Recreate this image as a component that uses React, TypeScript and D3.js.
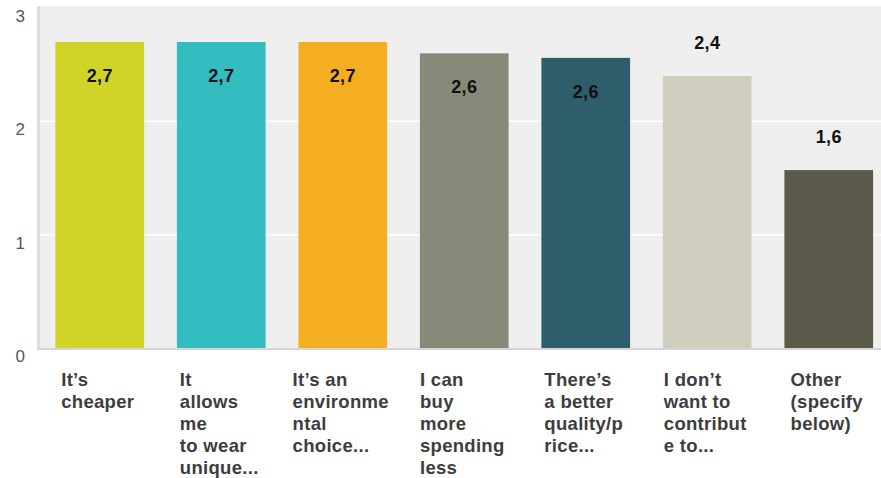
import React, { useEffect, useRef } from "react";
import * as d3 from "d3";

const categories: string[][] = [
  ["It’s", "cheaper"],
  ["It", "allows", "me", "to wear", "unique..."],
  ["It’s an", "environme", "ntal", "choice..."],
  ["I can", "buy", "more", "spending", "less"],
  ["There’s", "a better", "quality/p", "rice..."],
  ["I don’t", "want to", "contribut", "e to..."],
  ["Other", "(specify", "below)"],
];
const values: number[] = [2.7, 2.7, 2.7, 2.6, 2.56, 2.4, 1.57];
const valueLabels: string[] = ["2,7", "2,7", "2,7", "2,6", "2,6", "2,4", "1,6"];
const colors: string[] = ["#cfd427", "#33bdc0", "#f5ae1f", "#888a79", "#2e5e6b", "#cfcdbe", "#5b5a4a"];
const yTicks: number[] = [0, 1, 2, 3];

const W = 881;
const H = 478;

export default function App() {
  const ref = useRef<SVGSVGElement>(null);

  useEffect(() => {
    const svg = d3.select(ref.current);
    svg.selectAll("*").remove();

    const plotLeft = 38;
    const plotTop = 6;
    const plotBottom = 348;

    const y = d3.scaleLinear().domain([0, 3]).range([348, 8]);
    const x = d3
      .scaleBand<number>()
      .domain(d3.range(categories.length))
      .range([39, 889.5])
      .paddingInner(0.27)
      .paddingOuter(0.135);

    svg
      .append("rect")
      .attr("x", plotLeft)
      .attr("y", plotTop)
      .attr("width", W - plotLeft)
      .attr("height", plotBottom - plotTop)
      .attr("fill", "#efefef");

    svg
      .append("rect")
      .attr("x", 37)
      .attr("y", plotTop)
      .attr("width", 3)
      .attr("height", plotBottom - plotTop + 2)
      .attr("fill", "#dcdcdc");

    svg
      .selectAll("line.grid")
      .data(yTicks.filter((t) => t > 0 && t < 3))
      .enter()
      .append("line")
      .attr("x1", 40)
      .attr("x2", W)
      .attr("y1", (d) => y(d))
      .attr("y2", (d) => y(d))
      .attr("stroke", "#ffffff")
      .attr("stroke-width", 1.5);

    svg
      .selectAll("text.ytick")
      .data(yTicks)
      .enter()
      .append("text")
      .attr("x", 25)
      .attr("y", (d) => y(d) + 14)
      .attr("text-anchor", "end")
      .attr("font-family", "Liberation Sans, Arial, sans-serif")
      .attr("font-size", 17)
      .attr("fill", "#555555")
      .text((d) => String(d));

    svg
      .selectAll("rect.bar")
      .data(values)
      .enter()
      .append("rect")
      .attr("x", (_, i) => x(i)!)
      .attr("y", (d) => y(d))
      .attr("width", x.bandwidth())
      .attr("height", (d) => y(0) - y(d))
      .attr("fill", (_, i) => colors[i]);

    svg
      .append("rect")
      .attr("x", 37)
      .attr("y", 348)
      .attr("width", W - 37)
      .attr("height", 2)
      .attr("fill", "#d6d6d6");

    svg
      .selectAll("text.val")
      .data(values)
      .enter()
      .append("text")
      .attr("x", (_, i) => x(i)! + x.bandwidth() / 2)
      .attr("y", (d, i) => (i < 5 ? y(d) + 40 : y(d) - 27))
      .attr("text-anchor", "middle")
      .attr("font-family", "Liberation Sans, Arial, sans-serif")
      .attr("font-weight", "bold")
      .attr("font-size", 18)
      .attr("letter-spacing", 0.3)
      .attr("fill", "#111111")
      .text((_, i) => valueLabels[i]);

    categories.forEach((lines, i) => {
      const g = svg.append("g");
      const t = g
        .append("text")
        .attr("font-family", "Liberation Sans, Arial, sans-serif")
        .attr("font-weight", "bold")
        .attr("font-size", 18.5)
        .attr("letter-spacing", 0.3)
        .attr("fill", "#3d3d3d");
      lines.forEach((ln, j) => {
        t.append("tspan").attr("x", 0).attr("y", 386 + j * 22).text(ln);
      });
      let maxW = 0;
      t.selectAll<SVGTSpanElement, unknown>("tspan").each(function () {
        maxW = Math.max(maxW, this.getComputedTextLength());
      });
      const cx = x(i)! + x.bandwidth() / 2;
      g.attr("transform", `translate(${cx - maxW / 2 - 2},0)`);
    });
  }, []);

  return (
    <svg
      ref={ref}
      width={W}
      height={H}
      style={{ position: "absolute", left: 0, top: 0, background: "#ffffff" }}
    />
  );
}
